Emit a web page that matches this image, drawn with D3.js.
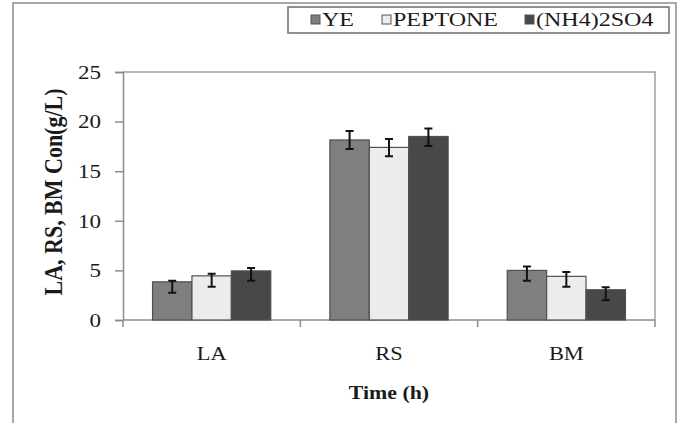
<!DOCTYPE html>
<html>
<head>
<meta charset="utf-8">
<script src="https://cdn.jsdelivr.net/npm/d3@7"></script>
<style>
  body { margin: 0; background: #fff; }
  text { font-family: "Liberation Serif", "Times New Roman", serif; fill: #1a1a1a; }
</style>
</head>
<body>
<div id="plot"></div>
<script>
// data
const categories = ["LA", "RS", "BM"];
const series = ["YE", "PEPTONE", "(NH4)2SO4"];
const colors = ["#7f7f7f", "#ececec", "#484848"];
const values = [
  [3.85, 18.15, 5.0],   // YE
  [4.45, 17.4, 4.4],    // PEPTONE
  [4.95, 18.5, 3.05]    // (NH4)2SO4
];
// error bar ends (low, high)
const errLow = [
  [2.75, 17.25, 3.95],
  [3.35, 16.5, 3.35],
  [3.95, 17.55, 2.0]
];
const errHigh = [
  [3.95, 19.05, 5.4],
  [4.65, 18.25, 4.85],
  [5.25, 19.3, 3.3]
];
const yTicks = [0, 5, 10, 15, 20, 25];

const W = 684, H = 423;
const stretch = 1.28; // the original picture is widened, so is its text

const svg = d3.select("#plot").append("svg")
  .attr("width", W)
  .attr("height", H);

// outer chart frame
svg.append("path")
  .attr("d", "M13,430 V3 H676 V430")
  .attr("fill", "none")
  .attr("stroke", "#8c8c8c")
  .attr("stroke-width", 1.5);

const pLeft = 123, pRight = 655, pTop = 72, pBottom = 320;

const x0 = d3.scaleBand().domain(categories).range([pLeft, pRight]).padding(0);
const x1 = d3.scaleBand().domain(series).range([0, x0.bandwidth()]).paddingInner(0).paddingOuter(0.75);
const y = d3.scaleLinear().domain([0, 25]).range([pBottom, pTop]);

// plot area border (top + right)
svg.append("path")
  .attr("d", `M${pLeft},${pTop} H${pRight} V${pBottom}`)
  .attr("fill", "none")
  .attr("stroke", "#a0a0a0")
  .attr("stroke-width", 1.5);

// y axis
const yAxis = svg.append("g")
  .attr("transform", `translate(${pLeft},0)`)
  .call(d3.axisLeft(y).tickValues(yTicks).tickSize(8).tickPadding(6));
yAxis.select(".domain").attr("stroke", "#8c8c8c").attr("stroke-width", 1.5);
yAxis.selectAll(".tick line").attr("stroke", "#8c8c8c").attr("stroke-width", 1.5);
yAxis.selectAll(".tick text").remove();
yAxis.selectAll(".tick").append("g")
  .attr("transform", `translate(-22,0) scale(${stretch},1)`)
  .append("text")
  .attr("text-anchor", "end")
  .attr("dy", "0.35em")
  .style("font-size", "18px")
  .text(d => d);

// x axis
const xAxis = svg.append("g")
  .attr("transform", `translate(0,${pBottom})`);
xAxis.append("line")
  .attr("x1", pLeft).attr("x2", pRight)
  .attr("stroke", "#8c8c8c").attr("stroke-width", 1.5);
const boundaries = categories.map(c => x0(c)).concat([pRight]);
xAxis.selectAll(".xt").data(boundaries).join("line")
  .attr("class", "xt")
  .attr("x1", d => d).attr("x2", d => d)
  .attr("y1", 0).attr("y2", 7)
  .attr("stroke", "#8c8c8c").attr("stroke-width", 1.5);
xAxis.selectAll(".xl").data(categories).join("g")
  .attr("class", "xl")
  .attr("transform", d => `translate(${x0(d) + x0.bandwidth() / 2},40) scale(${stretch - 0.1},1)`)
  .append("text")
  .attr("text-anchor", "middle")
  .style("font-size", "19px")
  .text(d => d);

// bars
const groups = svg.selectAll(".grp").data(categories).join("g")
  .attr("class", "grp")
  .attr("transform", d => `translate(${x0(d)},0)`);

groups.each(function(cat, ci) {
  const g = d3.select(this);
  series.forEach((s, si) => {
    g.append("rect")
      .attr("x", x1(s))
      .attr("y", y(values[si][ci]))
      .attr("width", x1.bandwidth())
      .attr("height", pBottom - y(values[si][ci]))
      .attr("fill", colors[si])
      .attr("stroke", "#505050")
      .attr("stroke-width", 1.2);
    const cx = x1(s) + x1.bandwidth() / 2;
    const lo = y(errLow[si][ci]), hi = y(errHigh[si][ci]);
    g.append("path")
      .attr("d", `M${cx},${lo} V${hi} M${cx - 4},${lo} H${cx + 4} M${cx - 4},${hi} H${cx + 4}`)
      .attr("fill", "none")
      .attr("stroke", "#111")
      .attr("stroke-width", 2);
  });
});

// axis titles
svg.append("g")
  .attr("transform", `translate(62,192) scale(1.15,1) rotate(-90)`)
  .append("text")
  .attr("text-anchor", "middle")
  .style("font-size", "22px")
  .style("font-weight", "bold")
  .text("LA, RS, BM Con(g/L)");

svg.append("g")
  .attr("transform", `translate(${(pLeft + pRight) / 2},399) scale(1.15,1)`)
  .append("text")
  .attr("text-anchor", "middle")
  .style("font-size", "19px")
  .style("font-weight", "bold")
  .text("Time (h)");

// legend
svg.append("rect")
  .attr("x", 288).attr("y", 7)
  .attr("width", 381).attr("height", 26)
  .attr("fill", "#fff")
  .attr("stroke", "#6e6e6e")
  .attr("stroke-width", 1.5);

const legendX = [311, 382, 525];
const leg = svg.selectAll(".leg").data(series).join("g")
  .attr("class", "leg")
  .attr("transform", (d, i) => `translate(${legendX[i]},0)`);
leg.append("rect")
  .attr("x", 0).attr("y", 15)
  .attr("width", 9).attr("height", 9)
  .attr("fill", (d, i) => colors[i])
  .attr("stroke", "#555")
  .attr("stroke-width", 1);
leg.append("g")
  .attr("transform", `translate(11,25.5) scale(1.3,1)`)
  .append("text")
  .style("font-size", "18.5px")
  .text(d => d);
</script>
</body>
</html>
